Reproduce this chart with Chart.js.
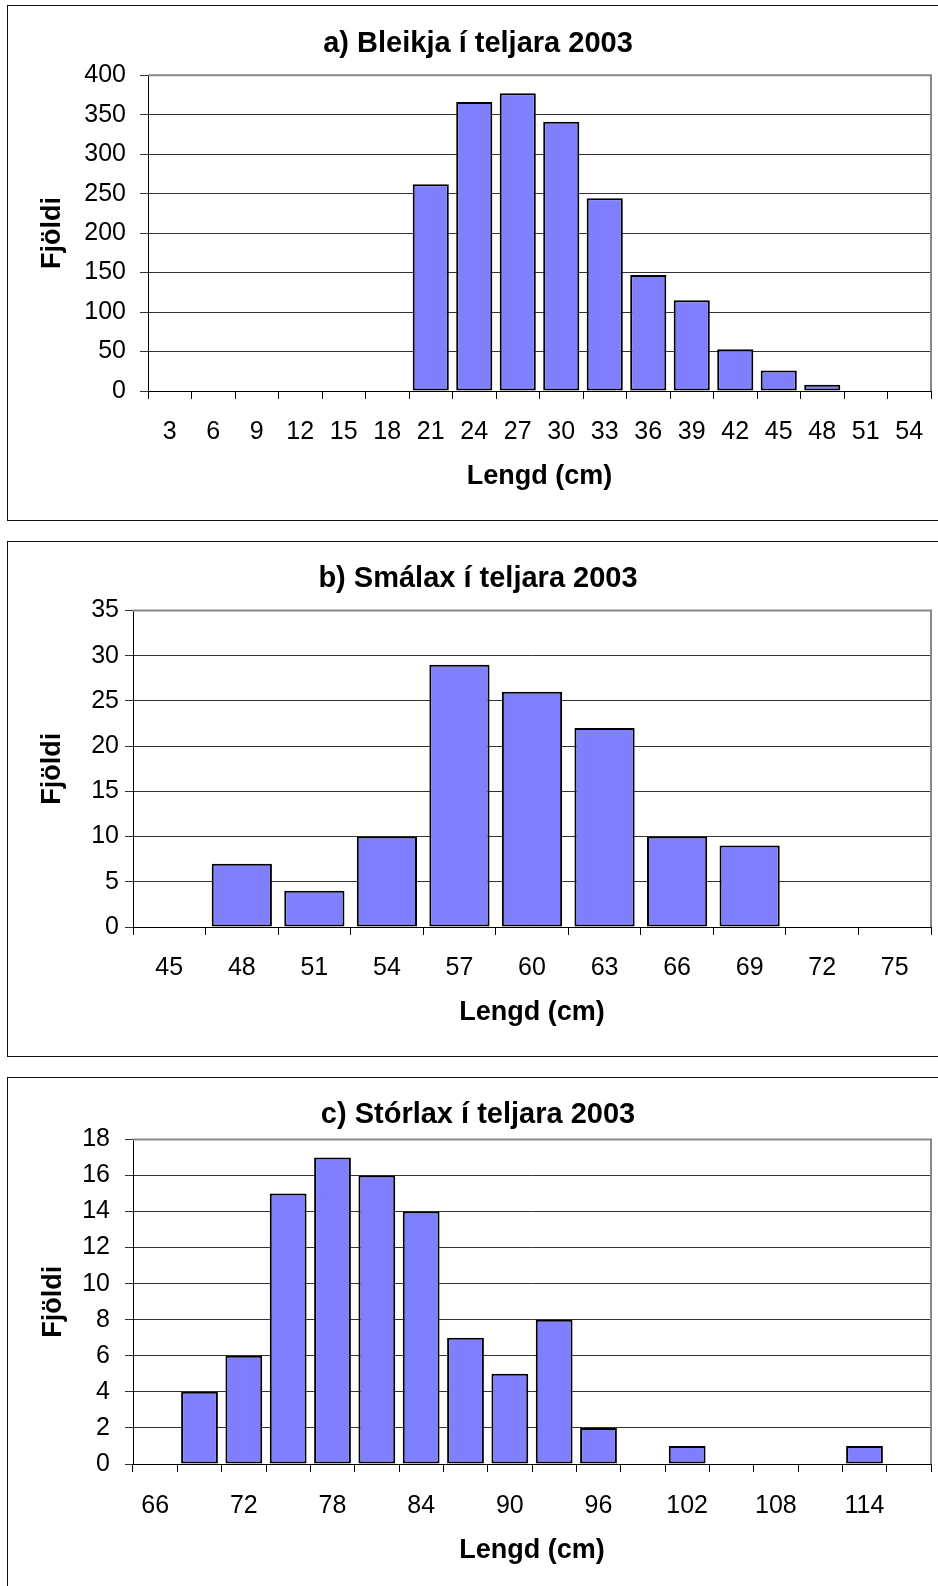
<!DOCTYPE html>
<html>
<head>
<meta charset="utf-8">
<script src="https://cdn.jsdelivr.net/npm/chart.js@4.4.1/dist/chart.umd.min.js"></script>
<style>
  html, body { margin: 0; padding: 0; background: #fff; overflow: hidden; width: 938px; height: 1586px; }
  .panel { position: absolute; left: 7px; width: 943px; height: 516px; border: 1px solid #111; box-sizing: border-box; background: #fff; }
  .panel canvas { position: absolute; left: 0; top: 0; }
</style>
</head>
<body>
<div class="panel" style="top:5px"><canvas id="chartA" width="941" height="514"></canvas></div>
<div class="panel" style="top:541px"><canvas id="chartB" width="941" height="514"></canvas></div>
<div class="panel" style="top:1077px"><canvas id="chartC" width="941" height="514"></canvas></div>
<script>
// a) Bleikja
const lengdA = ['3', '6', '9', '12', '15', '18', '21', '24', '27', '30', '33', '36', '39', '42', '45', '48', '51', '54'];
const fjoldiA = [0, 0, 0, 0, 0, 0, 262, 366, 377, 341, 244, 147, 115, 53, 26, 8, 0, 0];

// b) Smálax
const lengdB = ['45', '48', '51', '54', '57', '60', '63', '66', '69', '72', '75'];
const fjoldiB = [0, 7, 4, 10, 29, 26, 22, 10, 9, 0, 0];

// c) Stórlax
const lengdC = ['66', '69', '72', '75', '78', '81', '84', '87', '90', '93', '96', '99', '102', '105', '108', '111', '114', '117'];
const fjoldiC = [0, 4, 6, 15, 17, 16, 14, 7, 5, 8, 2, 0, 1, 0, 0, 0, 1, 0];

Chart.defaults.font.family = "'Liberation Sans', Arial, sans-serif";
Chart.defaults.color = '#000';

// grey frame on top and right of the plot area
const plotFrame = {
  id: 'plotFrame',
  beforeDatasetsDraw(chart) {
    const { ctx, chartArea: a } = chart;
    ctx.save();
    ctx.strokeStyle = '#888';
    ctx.lineWidth = 2;
    ctx.beginPath();
    ctx.moveTo(a.left, a.top);
    ctx.lineTo(a.right, a.top);
    ctx.lineTo(a.right, a.bottom);
    ctx.stroke();
    ctx.restore();
  }
};

function drawHist(id, title, labels, values, yMax, yStep, g, everyOther) {
  new Chart(document.getElementById(id), {
    type: 'bar',
    data: {
      labels: labels,
      datasets: [{
        data: values,
        backgroundColor: '#8080FF',
        borderColor: '#000',
        borderWidth: 2,
        borderSkipped: false,
        barPercentage: 0.83,
        categoryPercentage: 1
      }]
    },
    options: {
      responsive: false,
      animation: false,
      layout: { padding: { left: 17, right: 18, top: 0, bottom: 0 } },
      plugins: {
        legend: { display: false },
        tooltip: { enabled: false },
        title: {
          display: true,
          text: title,
          color: '#000',
          font: { size: 29, weight: 'bold' },
          padding: { top: g.titleTop, bottom: g.titleBottom }
        }
      },
      scales: {
        x: {
          afterFit: s => { s.height = g.xHeight; },
          offset: true,
          grid: { drawOnChartArea: false, drawTicks: true, tickLength: 8, color: '#000' },
          border: { color: '#000', width: 1 },
          ticks: {
            autoSkip: false,
            maxRotation: 0,
            padding: g.xPad,
            font: { size: 25 },
            color: '#000',
            callback: function (v, i) { return (everyOther && i % 2) ? '' : this.getLabelForValue(v); }
          },
          title: {
            display: true,
            text: 'Lengd (cm)',
            color: '#000',
            font: { size: 27, weight: 'bold' },
            padding: { top: 0, bottom: g.xTitlePad }
          }
        },
        y: {
          afterFit: s => { s.width = g.yWidth; },
          min: 0,
          max: yMax,
          grid: { color: '#333', lineWidth: 1, tickLength: 8 },
          border: { color: '#000', width: 1 },
          ticks: { stepSize: yStep, padding: g.yPad, font: { size: 25 }, color: '#000' },
          title: {
            display: true,
            text: 'Fjöldi',
            color: '#000',
            font: { size: 27, weight: 'bold' },
            padding: { top: g.yTitlePad, bottom: 0 }
          }
        }
      }
    },
    plugins: [plotFrame]
  });
}

drawHist('chartA', 'a) Bleikja í teljara 2003', lengdA, fjoldiA, 400, 50,
  { titleTop: 21, titleBottom: 13.4, xHeight: 129, xPad: 18, xTitlePad: 27.4, yWidth: 123, yPad: 14, yTitlePad: 11.4 }, false);
drawHist('chartB', 'b) Smálax í teljara 2003', lengdB, fjoldiB, 35, 5,
  { titleTop: 19.8, titleBottom: 13.8, xHeight: 129, xPad: 18, xTitlePad: 27.4, yWidth: 108, yPad: 6, yTitlePad: 11.4 }, false);
drawHist('chartC', 'c) Stórlax í teljara 2003', lengdC, fjoldiC, 18, 2,
  { titleTop: 19.8, titleBottom: 6.8, xHeight: 128, xPad: 19, xTitlePad: 25.4, yWidth: 108, yPad: 15, yTitlePad: 12.4 }, true);
</script>
</body>
</html>
